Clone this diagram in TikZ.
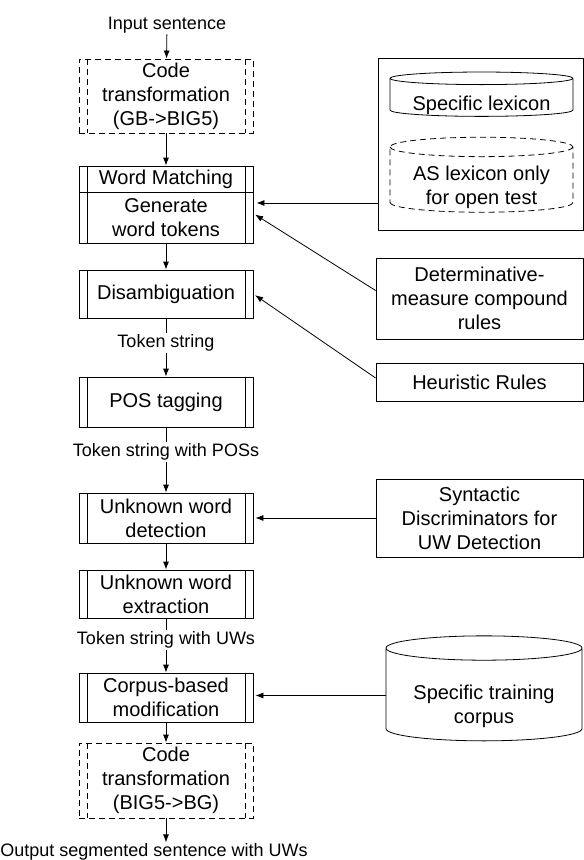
\documentclass[tikz,border=0pt]{standalone}
\usepackage{fontspec}
\setmainfont{Liberation Sans}
\usetikzlibrary{arrows.meta,shapes,backgrounds,fit}

\begin{document}
\begin{tikzpicture}[x=1pt,y=-1pt]
  \tikzstyle{proc}=[draw, line width=0.8pt, minimum width=174pt, inner sep=1pt, align=center,
    font=\fontsize{20}{24}\selectfont,
    path picture={\draw[line width=0.8pt]
      ([xshift=8pt]path picture bounding box.north west) -- ([xshift=8pt]path picture bounding box.south west)
      ([xshift=-8pt]path picture bounding box.north east) -- ([xshift=-8pt]path picture bounding box.south east);}]
  \tikzstyle{codebox}=[proc, dash pattern=on 6pt off 4pt,
    path picture={\draw[line width=0.8pt, dash pattern=on 6pt off 4pt]
      ([xshift=8pt]path picture bounding box.north west) -- ([xshift=8pt]path picture bounding box.south west)
      ([xshift=-8pt]path picture bounding box.north east) -- ([xshift=-8pt]path picture bounding box.south east);}]
  \tikzstyle{src}=[draw, line width=0.8pt, minimum width=207pt, inner sep=1pt, align=center,
    font=\fontsize{20}{24}\selectfont]
  \tikzstyle{store}=[src, cylinder, shape border rotate=90, text depth=0pt]
  \tikzstyle{lbl}=[fill=white, inner sep=1pt, font=\fontsize{18}{21}\selectfont]
  \tikzstyle{arr}=[-{Latex[length=8pt,width=6pt]}, line width=0.8pt]

  \useasboundingbox (0,0) rectangle (584,860);

  % main column
  \node [lbl] (input) at (167,25) {Input sentence};
  \node [codebox, minimum height=74pt] (code1) at (166,96) {Code\\transformation\\(GB->BIG5)};
  \node [proc, minimum height=26pt] (wmatch) at (166,179) {Word Matching};
  \node [proc, minimum height=51pt] (gentok) at (166,217.5) {Generate\\word tokens};
  \node [proc, minimum height=48pt] (disamb) at (166,294) {Disambiguation};
  \node [lbl] (tok1) at (166,343) {Token string};
  \node [proc, minimum height=50pt] (pos) at (166,402) {POS tagging};
  \node [lbl] (tok2) at (166,452) {Token string with POSs};
  \node [proc, minimum height=50pt] (uwdet) at (166,518) {Unknown word\\detection};
  \node [proc, minimum height=48pt] (uwext) at (166,594) {Unknown word\\extraction};
  \node [lbl] (tok3) at (166,640) {Token string with UWs};
  \node [proc, minimum height=49pt] (corpmod) at (166,697.5) {Corpus-based\\modification};
  \node [codebox, minimum height=75pt] (code2) at (166,780.5) {Code\\transformation\\(BIG5->BG)};
  \node [lbl] (output) at (154,852) {Output segmented sentence with UWs};

  % resources
  \node [draw, line width=0.8pt, minimum width=205pt, minimum height=172pt] (lexbox) at (480.5,144) {};
  \node [store, minimum width=183pt, minimum height=40pt, aspect=0.09, text height=24pt] (speclex) at (481.5,98) {Specific lexicon};
  \node [store, dash pattern=on 6pt off 4pt, minimum width=183pt, minimum height=75pt, aspect=0.14, text height=25pt] (aslex) at (481.5,180.5)
    {\begin{tabular}{@{}c@{}}AS lexicon only\\for open test\end{tabular}};
  \node [src, minimum height=81pt] (dmrule) at (479.5,298.5) {Determinative-\\measure compound\\rules};
  \node [src, minimum height=38pt] (heur) at (479.5,382) {Heuristic Rules};
  \node [src, minimum height=78pt] (syndis) at (479.5,518) {Syntactic\\Discriminators for\\UW Detection};
  \node [store, minimum width=196pt, minimum height=105pt, aspect=0.17, text height=33pt] (corpus) at (484,695.5)
    {\begin{tabular}{@{}c@{}}Specific training\\corpus\end{tabular}};

  % flow
  \draw [arr] (input) -- (code1);
  \draw [arr] (code1) -- (wmatch);
  \draw [arr] (gentok) -- (disamb);
  \draw (disamb) -- (tok1);
  \draw [arr] (tok1) -- (pos);
  \draw (pos) -- (tok2);
  \draw [arr] (tok2) -- (uwdet);
  \draw [arr] (uwdet) -- (uwext);
  \draw (uwext) -- (tok3);
  \draw [arr] (tok3) -- (corpmod);
  \draw [arr] (corpmod) -- (code2);
  \draw [arr] (code2) -- (code2.south |- output.north);

  % knowledge sources
  \draw [arr, shorten >=3pt] (lexbox.west |- 0,203) -- (gentok.east |- 0,203);
  \draw [arr, shorten >=2pt] ([yshift=8pt]dmrule.west) -- ([yshift=4pt]gentok.east);
  \draw [arr, shorten >=2pt] ([yshift=4pt]heur.west) -- (disamb.east);
  \draw [arr, shorten >=2pt] (syndis.west) -- (uwdet.east);
  \draw [arr, shorten >=2pt] (corpus.west) -- (corpus.west -| corpmod.east);
\end{tikzpicture}
\end{document}
